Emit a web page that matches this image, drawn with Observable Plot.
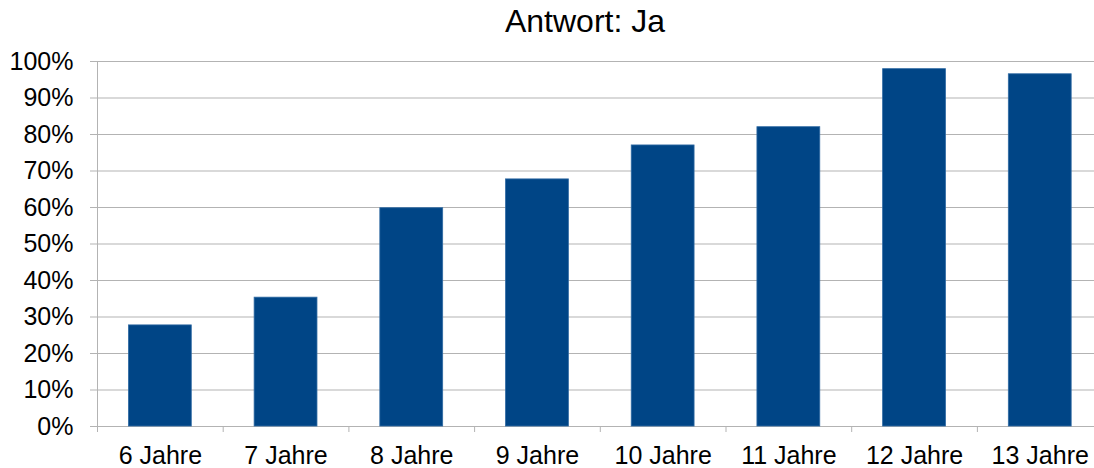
<!DOCTYPE html>
<html>
<head>
<meta charset="utf-8">
<script src="https://cdn.jsdelivr.net/npm/d3@7"></script>
<script src="https://cdn.jsdelivr.net/npm/@observablehq/plot@0.6"></script>
<style>
  html, body { margin: 0; padding: 0; background: #fff; }
  body { width: 1094px; height: 468px; overflow: hidden; font-family: "Liberation Sans", Arial, sans-serif; }
  #title { position: relative; height: 44px; }
  #title span { position: absolute; left: 585px; top: 5px; transform: translateX(-50%); font-size: 32px; line-height: 1; color: #000; white-space: nowrap; }
  svg { display: block; }
</style>
</head>
<body>
<div id="title"><span>Antwort: Ja</span></div>
<div id="chart"></div>
<script>
const categories = ["6 Jahre", "7 Jahre", "8 Jahre", "9 Jahre", "10 Jahre", "11 Jahre", "12 Jahre", "13 Jahre"];
const values = [0.277, 0.353, 0.598, 0.677, 0.770, 0.820, 0.979, 0.965];
const yTicks = [0, 0.1, 0.2, 0.3, 0.4, 0.5, 0.6, 0.7, 0.8, 0.9, 1.0];

const data = categories.map((c, i) => ({category: c, value: values[i]}));

const width = 1094;
const height = 424;
const marginLeft = 97;
const marginRight = -8.6;
const step = (width - marginRight - marginLeft) / categories.length;
const gridColor = "#b3b3b3";

const chart = Plot.plot({
  width,
  height,
  marginTop: 17,
  marginBottom: 42,
  marginLeft,
  marginRight,
  style: {fontFamily: "'Liberation Sans', Arial, sans-serif", fontSize: "25px", color: "#000", background: "#fff", overflow: "hidden"},
  x: {domain: categories, type: "band", paddingInner: 0.5, paddingOuter: 0.25, round: false, label: null},
  y: {domain: [0, 1], label: null},
  marks: [
    Plot.gridY(yTicks, {stroke: gridColor, strokeOpacity: 1, strokeWidth: 1}),
    Plot.axisY(yTicks, {tickSize: 7, tickPadding: 17, stroke: gridColor, tickFormat: d3.format(".0%"), fontSize: 25, fill: "#000", label: null}),
    Plot.axisX({tickSize: 6, tickFormat: () => "", stroke: gridColor, dx: -step / 2, label: null}),
    Plot.axisX({tickSize: 0, tickPadding: 20, fontSize: 25, fill: "#000", label: null}),
    Plot.frame({anchor: "left", stroke: gridColor}),
    Plot.barY(data, {x: "category", y: "value", fill: "#004586", stroke: "#2f6aa3", strokeWidth: 0.8})
  ]
});
document.getElementById("chart").appendChild(chart);
</script>
</body>
</html>
